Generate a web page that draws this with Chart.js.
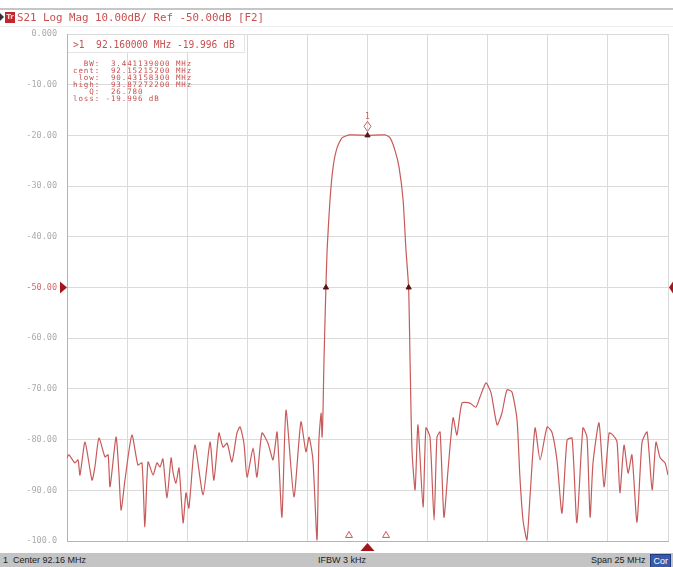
<!DOCTYPE html>
<html>
<head>
<meta charset="utf-8">
<script src="https://cdn.jsdelivr.net/npm/chart.js@4.4.1/dist/chart.umd.min.js"></script>
<style>
  html, body { margin: 0; padding: 0; background: #fff; }
  #wrap { position: relative; width: 673px; height: 567px; overflow: hidden; background: #fff; }
  #wrap canvas { position: absolute; left: 0; top: 0; }
  #hdr { position: absolute; left: 0; top: 8px; width: 673px; height: 16px; border-top: 2px solid #c6c6c6; border-bottom: 1px solid #ececec; }
  #hdr .arr { position: absolute; left: 0; top: 3px; width: 0; height: 0; border-top: 4px solid transparent; border-bottom: 4px solid transparent; border-left: 4px solid #333; }
  #hdr .tr { position: absolute; left: 5px; top: 2px; width: 10px; height: 11px; background: #c0282d; color: #f6d0d0; font: bold 7px "DejaVu Sans", sans-serif; line-height: 11px; text-align: center; }
  #hdr .txt { position: absolute; left: 17px; top: 1px; font: 10.8px "DejaVu Sans Mono", monospace; color: #c95050; white-space: pre; line-height: 14px; }
  #mk { position: absolute; left: 68px; top: 35px; width: 176px; height: 17px; background: #fff; border-right: 1px solid #e4e4e4; border-bottom: 1px solid #e4e4e4; }
  #mk1 { position: absolute; left: 73px; top: 39px; font: 9.6px "DejaVu Sans Mono", monospace; color: #c94f4f; white-space: pre; line-height: 11px; }
  #mkStats { position: absolute; left: 73px; top: 60px; font: 7.5px "DejaVu Sans Mono", monospace; letter-spacing: 0.9px; color: #c94f4f; white-space: pre; line-height: 7px; }
  #ftr { position: absolute; left: 0; top: 553px; width: 673px; height: 14px; background: #c4c4c4; font: 9px "Liberation Sans", sans-serif; color: #222; line-height: 14px; }
  #ftr span { position: absolute; top: 0; white-space: pre; }
  #ftr .cor { right: 2px; top: 1px; height: 12px; line-height: 12px; padding: 0 2px; background: #3a5aa8; color: #fff; border: 1px solid #1f3a80; }
</style>
</head>
<body>
<div id="wrap">
  <canvas id="vna" width="673" height="567"></canvas>
  <div id="hdr"><span class="arr"></span><span class="tr">Tr</span><span class="txt">S21 Log Mag 10.00dB/ Ref -50.00dB [F2]</span></div>
  <div id="mk"></div>
  <div id="mk1"></div>
  <div id="mkStats"></div>
  <div id="ftr">
    <span style="left:3px">1  Center 92.16 MHz</span>
    <span style="left:318px">IFBW 3 kHz</span>
    <span style="left:591px">Span 25 MHz</span>
    <span class="cor">Cor</span>
  </div>
</div>
<script>
// ── Sweep setup ─────────────────────────────────────────
const centerMHz = 92.16;
const spanMHz   = 25;
const refDb     = -50;
const yTicksDb  = [0, -10, -20, -30, -40, -50, -60, -70, -80, -90, -100];

// S21 trace (MHz / dB)
const freqMHz = [
  79.66, 79.74, 79.99, 80.12, 80.20, 80.41, 80.70, 80.82, 80.99, 81.24,
  81.37, 81.45, 81.70, 81.82, 81.91, 82.07, 82.36, 82.61, 82.78, 82.90,
  83.03, 83.24, 83.40, 83.53, 83.65, 83.82, 83.99, 84.07, 84.19, 84.32,
  84.49, 84.61, 84.73, 84.98, 85.32, 85.61, 85.77, 85.98, 86.15, 86.32,
  86.52, 86.73, 86.86, 87.02, 87.15, 87.40, 87.56, 87.77, 88.02, 88.23,
  88.40, 88.60, 88.77, 89.10, 89.39, 89.60, 89.73, 89.89, 90.06, 90.14,
  90.23, 90.27, 90.31, 90.35, 90.43, 90.48, 90.60, 90.73, 90.89, 91.10,
  91.43, 92.16, 92.89, 93.10, 93.30, 93.47, 93.64, 93.76, 93.87, 93.93,
  94.01, 94.14, 94.26, 94.47, 94.59, 94.76, 94.93, 95.05, 95.18, 95.34,
  95.51, 95.72, 95.88, 96.09, 96.42, 96.67, 96.84, 97.09, 97.30, 97.55,
  97.75, 97.96, 98.17, 98.38, 98.50, 98.63, 98.79, 98.92, 99.13, 99.34,
  99.63, 99.83, 100.04, 100.25, 100.46, 100.67, 100.87, 101.12, 101.29, 101.42,
  101.54, 101.79, 102.00, 102.21, 102.37, 102.54, 102.66, 102.83, 103.00, 103.16,
  103.37, 103.58, 103.79, 104.00, 104.16, 104.33, 104.54, 104.66
];
const s21Db = [
  -83.6, -83.0, -84.6, -84.0, -87.0, -80.5, -88.0, -85.4, -79.7, -83.4,
  -83.0, -89.3, -79.5, -86.6, -93.9, -88.0, -79.1, -85.0, -84.6, -97.2,
  -84.4, -87.0, -84.6, -85.4, -83.8, -91.5, -83.6, -86.4, -88.6, -85.6,
  -96.4, -90.5, -93.5, -81.1, -90.9, -80.5, -88.0, -78.7, -81.5, -80.7,
  -84.4, -78.7, -77.5, -80.7, -87.4, -81.7, -87.4, -78.7, -80.7, -84.0,
  -78.5, -95.3, -74.2, -91.3, -76.5, -82.4, -79.5, -84.0, -99.8, -80.1,
  -74.8, -79.5, -74.2, -64.3, -50.0, -42.6, -32.7, -26.2, -22.5, -20.5,
  -19.9, -20.0, -19.9, -20.5, -22.9, -26.2, -32.7, -42.6, -50.0, -64.3,
  -82.0, -89.9, -77.1, -93.3, -77.7, -79.5, -95.9, -79.5, -78.5, -95.3,
  -86.0, -75.7, -79.1, -72.8, -72.8, -73.6, -71.6, -68.8, -70.8, -77.1,
  -74.8, -70.2, -70.6, -76.1, -87.4, -95.9, -99.8, -91.3, -77.7, -84.0,
  -77.5, -78.5, -84.0, -94.5, -80.1, -79.7, -96.4, -77.7, -79.5, -95.3,
  -84.6, -76.7, -89.3, -78.7, -79.1, -80.5, -90.5, -81.1, -86.6, -83.0,
  -96.3, -80.5, -78.5, -89.9, -80.5, -83.6, -84.6, -87.0
];

// Markers
const markerFreq  = [92.16];
const markerDb    = [-19.996];
const bwEdgeFreq  = [90.43158, 93.87272];
const bwEdgeDb    = [-50, -50];
const deltaFreq   = [91.39, 92.93];
const deltaDb     = [-98.9, -98.9];

const markerLine  = '>1  92.160000 MHz -19.996 dB';
const statKeys    = ['BW', 'cent', 'low', 'high', 'Q', 'loss'];
const statVals    = [' 3.441139000 MHz', ' 92.15215200 MHz', ' 90.43158300 MHz', ' 93.87272200 MHz', ' 26.780', '-19.996 dB'];

document.getElementById('mk1').textContent = markerLine;
document.getElementById('mkStats').textContent = statKeys
  .map((k, i) => (k + ':').padStart(5, ' ') + ' ' + statVals[i]).join('\n');

const TRACE = '#c85a5a';
const DARK  = '#a3171c';

const pts = (xs, ys) => xs.map((x, i) => ({ x, y: ys[i] }));

// Ref-level arrows, marker 1 flag, stimulus centre arrow
const vnaDecor = {
  id: 'vnaDecor',
  afterDatasetsDraw(chart) {
    const { ctx, chartArea: a, scales: { x, y } } = chart;
    ctx.save();
    const ry = y.getPixelForValue(refDb);
    ctx.fillStyle = DARK;
    ctx.beginPath(); ctx.moveTo(a.left - 7, ry - 6); ctx.lineTo(a.left - 7, ry + 6); ctx.lineTo(a.left, ry); ctx.fill();
    ctx.beginPath(); ctx.moveTo(673, ry - 6); ctx.lineTo(673, ry + 6); ctx.lineTo(a.right + 1, ry); ctx.fill();

    const mx = x.getPixelForValue(markerFreq[0]);
    const my = y.getPixelForValue(markerDb[0]);
    ctx.strokeStyle = TRACE; ctx.lineWidth = 1;
    ctx.beginPath();
    ctx.moveTo(mx, my - 14); ctx.lineTo(mx + 3.5, my - 9); ctx.lineTo(mx, my - 4); ctx.lineTo(mx - 3.5, my - 9); ctx.closePath();
    ctx.stroke();
    ctx.fillStyle = TRACE;
    ctx.font = '8px "DejaVu Sans Mono", monospace';
    ctx.textAlign = 'center'; ctx.textBaseline = 'bottom';
    ctx.fillText('1', mx, my - 14);

    const cx = x.getPixelForValue(centerMHz);
    ctx.fillStyle = DARK;
    ctx.beginPath(); ctx.moveTo(cx - 7, a.bottom + 10); ctx.lineTo(cx + 7, a.bottom + 10); ctx.lineTo(cx, a.bottom + 2); ctx.fill();
    ctx.restore();
  }
};

new Chart(document.getElementById('vna'), {
  type: 'line',
  data: {
    datasets: [
      { data: pts(markerFreq, markerDb), showLine: false, pointStyle: 'triangle', pointRadius: 3,
        backgroundColor: '#5a1414', borderColor: '#5a1414', borderWidth: 1 },
      { data: pts(bwEdgeFreq, bwEdgeDb), showLine: false, pointStyle: 'triangle', pointRadius: 3,
        backgroundColor: '#5a1414', borderColor: '#5a1414', borderWidth: 1 },
      { data: pts(deltaFreq, deltaDb), showLine: false, pointStyle: 'triangle', pointRadius: 4,
        backgroundColor: '#fff', borderColor: TRACE, borderWidth: 1 },
      { data: pts(freqMHz, s21Db), borderColor: TRACE, borderWidth: 1.2, pointRadius: 0, tension: 0.2 },
    ],
  },
  options: {
    responsive: false,
    animation: false,
    devicePixelRatio: 1,
    layout: { padding: { top: 34, right: 5, bottom: 26, left: 0 } },
    plugins: { legend: { display: false }, tooltip: { enabled: false } },
    scales: {
      x: {
        type: 'linear', min: centerMHz - spanMHz / 2, max: centerMHz + spanMHz / 2,
        afterBuildTicks: s => { s.ticks = Array.from({ length: 11 }, (_, i) => ({ value: s.min + i * spanMHz / 10 })); },
        afterFit: s => { s.height = 0; },
        ticks: { display: false },
        grid: { color: '#dadada', lineWidth: 1, drawTicks: false },
        border: { color: '#b4b4b4', width: 1 },
      },
      y: {
        min: -100, max: 0,
        afterBuildTicks: s => { s.ticks = yTicksDb.map(v => ({ value: v })); },
        afterFit: s => { s.width = 67; },
        ticks: {
          padding: 10,
          font: { family: '"DejaVu Sans Mono", monospace', size: 8.5 },
          color: c => c.tick && c.tick.value === refDb ? '#d06a6a' : '#ababab',
          callback: v => v === 0 ? '0.000' : v === -100 ? '-100.0' : v.toFixed(2),
        },
        grid: { color: '#dadada', lineWidth: 1, drawTicks: false },
        border: { color: '#b4b4b4', width: 1 },
      },
    },
  },
  plugins: [vnaDecor],
});
</script>
</body>
</html>
